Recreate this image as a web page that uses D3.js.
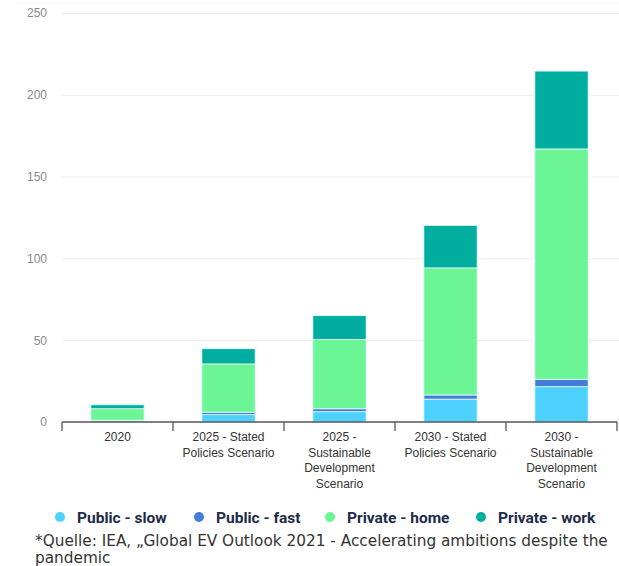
<!DOCTYPE html>
<html>
<head>
<meta charset="utf-8">
<script src="https://cdn.jsdelivr.net/npm/d3@7"></script>
<style>
  body { margin: 0; background: #fff; }
  svg { display: block; }
</style>
</head>
<body>
<svg id="chart" width="619" height="566"></svg>
<script>
// Data
const categories = [
  ["2020"],
  ["2025 - Stated", "Policies Scenario"],
  ["2025 -", "Sustainable", "Development", "Scenario"],
  ["2030 - Stated", "Policies Scenario"],
  ["2030 -", "Sustainable", "Development", "Scenario"]
];
const seriesNames = ["Public - slow", "Public - fast", "Private - home", "Private - work"];
const publicSlow = [0.8, 4.5, 6.3, 14, 21.6];
const publicFast = [0.3, 1.5, 1.8, 2.5, 4.5];
const privateHome = [7, 29.5, 42.3, 77.7, 140.8];
const privateWork = [2.4, 9.3, 14.6, 26, 47.6];
const yTicks = [0, 50, 100, 150, 200, 250];
const colors = ["#4dd2ff", "#437cd9", "#6cf594", "#00ae9f"];
const caption = ["*Quelle: IEA, \u201EGlobal EV Outlook 2021 - Accelerating ambitions despite the", "pandemic"];

const svg = d3.select("#chart");
const margin = { left: 62, right: 2, top: 13, bottom: 144 };
const W = 619, H = 566;

const keys = categories.map(c => c.join(" "));
const rows = keys.map((k, i) => ({
  key: k,
  "Public - slow": publicSlow[i],
  "Public - fast": publicFast[i],
  "Private - home": privateHome[i],
  "Private - work": privateWork[i]
}));

const x = d3.scaleBand().domain(keys).range([margin.left, W - margin.right]).paddingInner(0.52).paddingOuter(0.26);
const y = d3.scaleLinear().domain([0, 250]).range([H - margin.bottom, margin.top]);

// faint frame line at the very top
svg.append("line")
  .attr("x1", 16).attr("x2", W).attr("y1", 3).attr("y2", 3)
  .attr("stroke", "#f6f6f6");

// Gridlines + y labels
const yAxis = svg.append("g")
  .attr("transform", `translate(${margin.left},0)`)
  .call(d3.axisLeft(y).tickValues(yTicks).tickSize(-(W - margin.left)).tickPadding(15));
yAxis.select(".domain").remove();
yAxis.selectAll(".tick line").attr("stroke", "#ececec").attr("stroke-width", 1);
yAxis.selectAll(".tick text").attr("fill", "#8a8a8a").attr("font-family", "Liberation Sans, Arial, sans-serif").attr("font-size", 12);
yAxis.selectAll(".tick").filter(d => d === 0).select("line").remove();

// Stacked bars
const stack = d3.stack().keys(seriesNames)(rows);
svg.append("g").selectAll("g")
  .data(stack)
  .join("g")
  .attr("fill", (d, i) => colors[i])
  .selectAll("rect")
  .data(d => d)
  .join("rect")
  .attr("x", d => x(d.data.key))
  .attr("width", x.bandwidth())
  .attr("y", d => y(d[1]))
  .attr("height", d => y(d[0]) - y(d[1]))
  .attr("stroke", "#e6fbff")
  .attr("stroke-width", 0.8);

// X axis with boundary ticks
const xg = svg.append("g").attr("transform", `translate(0,${y(0)})`);
xg.append("line")
  .attr("x1", margin.left).attr("x2", W - margin.right)
  .attr("stroke", "#555").attr("stroke-width", 1.3);
const bounds = keys.map(k => x(k) - x.step() * x.paddingInner() / 2).concat([W - margin.right]);
bounds[0] = margin.left;
xg.selectAll(".bt").data(bounds).join("line")
  .attr("x1", d => d).attr("x2", d => d)
  .attr("y1", 0).attr("y2", 9)
  .attr("stroke", "#555").attr("stroke-width", 1.3);
xg.selectAll(".lbl").data(categories).join("text")
  .attr("x", (d, i) => x(keys[i]) + x.bandwidth() / 2)
  .attr("y", 19)
  .attr("text-anchor", "middle")
  .attr("fill", "#333")
  .attr("font-family", "Liberation Sans, Arial, sans-serif")
  .attr("font-size", 12)
  .selectAll("tspan")
  .data(d => d)
  .join("tspan")
  .attr("x", function () { return d3.select(this.parentNode).attr("x"); })
  .attr("dy", (d, i) => i === 0 ? 0 : 15.5)
  .text(d => d);

// Legend
const legendX = [60, 199, 330, 481];
const legend = svg.append("g").attr("transform", "translate(0,517)");
const li = legend.selectAll("g").data(seriesNames).join("g")
  .attr("transform", (d, i) => `translate(${legendX[i]},0)`);
li.append("circle").attr("r", 5).attr("fill", (d, i) => colors[i]);
li.append("text")
  .attr("x", 17).attr("y", 5.5)
  .attr("fill", "#1d2a4a")
  .attr("font-family", "Roboto, sans-serif")
  .attr("font-weight", "bold")
  .attr("font-size", 15.5)
  .text(d => d);

// Caption
svg.append("g").selectAll("text").data(caption).join("text")
  .attr("x", 35)
  .attr("y", (d, i) => 546 + i * 17)
  .attr("fill", "#333")
  .attr("font-family", "DejaVu Sans, sans-serif")
  .attr("font-size", 15.3)
  .text(d => d);
</script>
</body>
</html>
